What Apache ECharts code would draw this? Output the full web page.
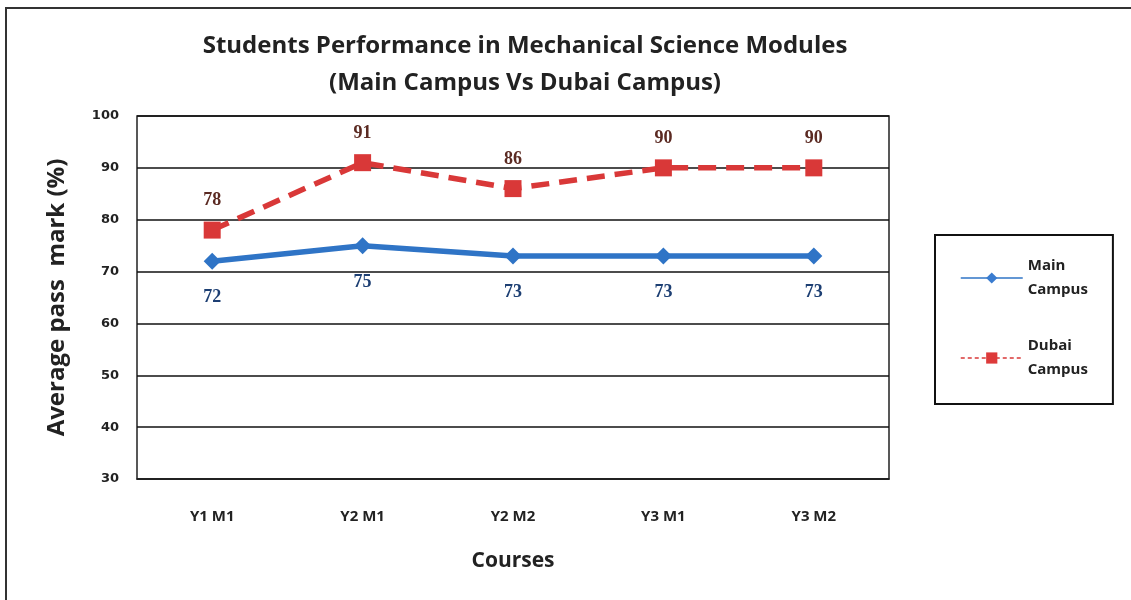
<!DOCTYPE html>
<html>
<head>
<meta charset="utf-8">
<script src="https://cdn.jsdelivr.net/npm/echarts@6/dist/echarts.min.js"></script>
<style>
    * { margin: 0; padding: 0; }
    body { background: #fff; }
</style>
</head>
<body>
<!-- chart container -->
<div id="perfChart" style="width: 1131px;height: 600px;"></div>
<script>
    var courses = ['Y1 M1', 'Y2 M1', 'Y2 M2', 'Y3 M1', 'Y3 M2']
    var mainCampus = [72, 75, 73, 73, 73]
    var dubaiCampus = [78, 91, 86, 90, 90]
    var yTicks = [30, 40, 50, 60, 70, 80, 90, 100]

    var font = '"Open Sans", Lato, sans-serif'
    var chart = echarts.init(document.getElementById('perfChart'))
    chart.setOption({
        animation: false,
        title: {
            text: 'Students Performance in Mechanical Science Modules\n(Main Campus Vs Dubai Campus)',
            left: 520,
            top: 23,
            textAlign: 'center',
            textStyle: {
                fontFamily: font,
                fontSize: 24,
                fontWeight: 'bold',
                color: '#222',
                lineHeight: 37
            }
        },
        // outer frame of the picture
        graphic: [{
            type: 'rect',
            shape: { x: 6, y: 8, width: 1140, height: 600 },
            style: { fill: 'none', stroke: '#333', lineWidth: 2 }
        }],
        legend: {
            orient: 'vertical',
            left: 935,
            top: 235,
            padding: [19, 25, 22, 25],
            itemGap: 32,
            itemWidth: 62,
            itemHeight: 14,
            borderColor: '#111',
            borderWidth: 2,
            formatter: function (name) {
                return name.replace(' ', '\n')
            },
            textStyle: {
                fontFamily: font,
                fontSize: 15,
                fontWeight: 'bold',
                color: '#222',
                lineHeight: 24
            },
            data: [{
                name: 'Main Campus',
                itemStyle: { color: '#3a7cd0' },
                lineStyle: { width: 1.5, type: 'solid' }
            }, {
                name: 'Dubai Campus',
                itemStyle: { color: '#dd3a3a' },
                lineStyle: { width: 1.5, type: [4, 3] }
            }]
        },
        grid: {
            left: 137,
            right: 242,
            top: 116,
            bottom: 121,
            show: true,
            borderColor: '#222',
            borderWidth: 1.5
        },
        xAxis: {
            type: 'category',
            data: courses,
            boundaryGap: true,
            name: 'Courses',
            nameLocation: 'middle',
            nameGap: 72,
            nameTextStyle: {
                fontFamily: font,
                fontSize: 21,
                fontWeight: 'bold',
                color: '#222'
            },
            axisLine: { lineStyle: { color: '#222', width: 1.5 } },
            axisTick: { show: false },
            axisLabel: {
                margin: 30,
                fontFamily: font,
                fontSize: 15,
                fontWeight: 'bold',
                color: '#222'
            }
        },
        yAxis: {
            type: 'value',
            min: yTicks[0],
            max: yTicks[yTicks.length - 1],
            interval: 10,
            name: 'Average pass  mark (%)',
            nameLocation: 'middle',
            nameGap: 68,
            nameTextStyle: {
                fontFamily: font,
                fontSize: 24,
                fontWeight: 'bold',
                color: '#222'
            },
            axisLine: { show: false },
            axisTick: { show: false },
            axisLabel: {
                margin: 18,
                fontFamily: '"DejaVu Sans", sans-serif',
                fontSize: 13,
                fontWeight: 'bold',
                color: '#222'
            },
            splitLine: { lineStyle: { color: '#111', width: 1.5 } }
        },
        series: [{
            name: 'Main Campus',
            type: 'line',
            data: mainCampus,
            symbol: 'diamond',
            symbolSize: 17,
            itemStyle: { color: '#2f74c6' },
            lineStyle: { width: 5.5, color: '#2f74c6' },
            label: {
                show: true,
                position: 'bottom',
                distance: 19,
                fontFamily: '"Liberation Serif", serif',
                fontSize: 18,
                fontWeight: 'bold',
                color: '#1d3f73'
            }
        }, {
            name: 'Dubai Campus',
            type: 'line',
            data: dubaiCampus,
            symbol: 'rect',
            symbolSize: 17,
            itemStyle: { color: '#d93838' },
            lineStyle: { width: 5.5, color: '#d93838', type: [18, 10] },
            label: {
                show: true,
                position: 'top',
                distance: 12,
                fontFamily: '"Liberation Serif", serif',
                fontSize: 18,
                fontWeight: 'bold',
                color: '#5b2a22'
            }
        }]
    })
</script>
</body>
</html>
